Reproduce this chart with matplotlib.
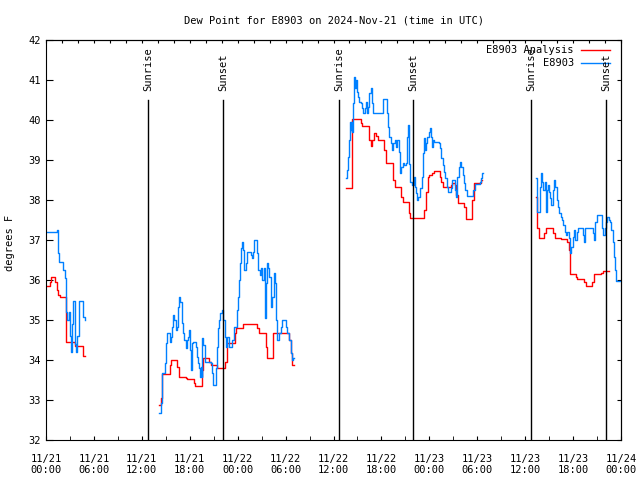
import numpy as np
import matplotlib
matplotlib.use('Agg')
import matplotlib.pyplot as plt

plt.rcParams['font.family'] = 'DejaVu Sans Mono'
plt.rcParams['font.size'] = 7.5

# (hours after 2024-11-21 00:00 UTC, dew point F) - each pair starts a step
obs_seg1 = [(0.0, 37.19), (1.34, 37.25), (1.50, 36.67), (1.63, 36.46), (2.17, 36.25),
            (2.34, 36.04), (2.46, 35.6), (2.55, 35.21), (2.67, 35.0), (2.88, 35.21),
            (3.0, 34.6), (3.09, 34.2), (3.30, 34.9), (3.42, 35.47), (3.59, 35.1),
            (3.63, 34.4), (3.75, 34.2), (3.92, 34.6), (4.13, 35.47), (4.67, 35.08),
            (4.88, 35.0)]
obs_seg2 = [(14.15, 32.67), (14.44, 32.92), (14.57, 33.67), (14.90, 33.92), (15.07, 34.42),
            (15.20, 34.67), (15.53, 34.46), (15.62, 34.58), (15.82, 34.83), (15.94, 35.12),
            (16.07, 35.0), (16.24, 34.75), (16.36, 34.83), (16.57, 35.33), (16.70, 35.58),
            (16.82, 35.46), (16.99, 34.92), (17.20, 34.67), (17.32, 34.5), (17.49, 34.29),
            (17.70, 34.5), (17.82, 34.58), (17.91, 34.75), (18.03, 34.25), (18.16, 33.75),
            (18.32, 34.42), (18.45, 34.46), (18.74, 34.33), (18.91, 34.08), (19.07, 33.92),
            (19.20, 33.79), (19.32, 33.58), (19.41, 33.83), (19.49, 33.58), (19.57, 34.54),
            (19.70, 34.37), (19.87, 33.96), (20.62, 33.92), (20.83, 33.67), (20.95, 33.37),
            (21.25, 33.8), (21.37, 34.33), (21.54, 34.79), (21.66, 35.0), (21.79, 35.17),
            (22.0, 35.25), (22.2, 35.0), (22.41, 34.58), (22.58, 34.33), (22.7, 34.58),
            (22.92, 34.33), (23.33, 34.5), (23.54, 34.83), (23.88, 35.25), (24.04, 35.58),
            (24.17, 36.0), (24.29, 36.42), (24.46, 36.79), (24.58, 36.96), (24.71, 36.75),
            (24.79, 36.25), (25.0, 36.42), (25.13, 36.69), (25.71, 36.63), (25.84, 36.54),
            (25.96, 36.71), (26.09, 37.0), (26.46, 36.67), (26.59, 36.25), (26.75, 36.13),
            (26.92, 36.29), (27.09, 36.0), (27.26, 36.29), (27.38, 35.04), (27.51, 35.92),
            (27.63, 36.42), (27.8, 36.29), (27.92, 36.08), (28.13, 35.33), (28.34, 35.58),
            (28.55, 36.17), (28.67, 35.92), (28.8, 35.0), (28.97, 34.5), (29.18, 34.67),
            (29.38, 34.83), (29.59, 35.0), (30.01, 34.83), (30.22, 34.67), (30.43, 34.5),
            (30.64, 34.17), (30.76, 34.0), (30.89, 34.04), (31.05, 34.04)]
obs_seg3 = [(37.61, 38.54), (37.73, 38.75), (37.86, 39.08), (37.98, 39.5), (38.07, 39.96),
            (38.15, 39.75), (38.23, 39.96), (38.36, 39.71), (38.48, 40.42), (38.61, 41.07),
            (38.69, 40.79), (38.78, 41.0), (38.9, 40.71), (39.07, 40.58), (39.24, 40.46),
            (39.4, 40.42), (39.57, 40.29), (39.74, 40.17), (39.9, 40.29), (40.07, 40.46),
            (40.24, 40.17), (40.36, 40.33), (40.49, 40.67), (40.66, 40.79), (40.82, 40.42),
            (40.99, 40.17), (42.24, 40.52), (42.66, 40.17), (42.83, 39.83), (42.99, 39.58),
            (43.16, 39.42), (43.33, 39.25), (43.49, 39.42), (43.66, 39.5), (43.83, 39.33),
            (43.99, 39.5), (44.16, 39.21), (44.33, 38.67), (44.49, 38.83), (44.66, 38.92),
            (44.83, 38.875), (45.04, 38.92), (45.2, 39.58), (45.3, 39.875), (45.5, 38.9),
            (45.62, 38.46), (45.87, 38.375), (46.08, 38.58), (46.21, 38.33), (46.37, 38.17),
            (46.5, 38.0), (46.62, 38.08), (46.79, 38.29), (47.12, 38.58), (47.25, 39.17),
            (47.37, 39.54), (47.5, 39.25), (47.62, 39.42), (47.75, 39.58), (47.92, 39.71),
            (48.04, 39.79), (48.17, 39.58), (48.29, 39.33), (48.42, 39.5), (48.59, 39.46),
            (49.17, 39.42), (49.34, 39.29), (49.5, 39.04), (49.67, 38.875), (49.84, 38.71),
            (50.0, 38.54), (50.17, 38.33), (50.34, 38.21), (50.67, 38.29), (50.88, 38.5),
            (51.17, 38.25), (51.34, 38.08), (51.51, 38.58), (51.67, 38.83), (51.84, 38.96),
            (52.01, 38.83), (52.17, 38.625), (52.34, 38.42), (52.51, 38.25), (52.68, 38.1),
            (53.51, 38.25), (53.68, 38.4), (54.35, 38.46), (54.51, 38.54), (54.64, 38.67),
            (54.7, 38.67)]
obs_seg4 = [(61.4, 38.54), (61.52, 37.71), (61.86, 38.33), (62.03, 38.67), (62.15, 38.46),
            (62.27, 38.25), (62.44, 38.46), (62.57, 37.71), (62.69, 38.25), (62.86, 38.375),
            (62.99, 38.21), (63.11, 38.04), (63.28, 37.875), (63.45, 38.25), (63.61, 38.5),
            (63.78, 38.33), (63.95, 38.0), (64.11, 37.83), (64.28, 37.67), (64.45, 37.58),
            (64.61, 37.5), (64.78, 37.375), (64.95, 37.21), (65.11, 37.125), (65.28, 37.21),
            (65.45, 37.04), (65.62, 36.67), (65.78, 36.83), (65.95, 37.08), (66.12, 37.25),
            (66.28, 37.0), (66.45, 37.21), (66.62, 37.29), (67.2, 37.125), (67.37, 36.96),
            (67.54, 37.29), (68.45, 37.17), (68.62, 37.0), (68.79, 37.46), (68.95, 37.625),
            (69.62, 37.29), (69.79, 37.125), (69.96, 37.29), (70.12, 37.46), (70.29, 37.58),
            (70.46, 37.5), (70.62, 37.46), (70.79, 37.25), (70.96, 36.96), (71.12, 36.58),
            (71.29, 36.25), (71.38, 35.98), (71.9, 35.98)]

ana_seg1 = [(0.0, 35.86), (0.46, 35.96), (0.67, 36.07), (1.13, 35.96), (1.34, 35.75),
            (1.50, 35.62), (1.71, 35.57), (2.46, 35.29), (2.55, 34.45), (3.63, 34.35),
            (4.63, 34.1), (4.88, 34.1)]
ana_seg2 = [(14.15, 32.875), (14.44, 33.04), (14.57, 33.65), (15.49, 33.875), (15.61, 34.0),
            (16.45, 33.83), (16.65, 33.58), (17.49, 33.54), (17.7, 33.52), (18.53, 33.42),
            (18.66, 33.35), (19.49, 33.75), (19.66, 34.06), (20.41, 33.96), (20.62, 33.875),
            (21.45, 33.79), (22.41, 33.96), (22.62, 34.42), (23.63, 34.67), (23.83, 34.79),
            (24.71, 34.9), (26.38, 34.79), (26.67, 34.67), (27.51, 34.33), (27.72, 34.06),
            (28.47, 34.67), (30.43, 34.5), (30.64, 34.18), (30.85, 33.875), (31.05, 33.875)]
ana_seg3 = [(37.61, 38.31), (38.36, 40.02), (39.4, 39.92), (39.57, 39.85), (40.45, 39.5),
            (40.66, 39.35), (40.87, 39.5), (41.04, 39.67), (41.37, 39.6), (41.54, 39.5),
            (42.31, 39.25), (42.52, 38.92), (43.49, 38.5), (43.66, 38.33), (44.49, 38.08),
            (44.66, 37.94), (45.46, 37.67), (45.62, 37.54), (47.33, 37.75), (47.54, 38.21),
            (47.83, 38.58), (47.96, 38.625), (48.38, 38.68), (48.59, 38.725), (49.34, 38.58),
            (49.5, 38.46), (49.75, 38.32), (50.67, 38.37), (50.88, 38.42), (51.17, 38.37),
            (51.38, 38.125), (51.59, 37.93), (52.34, 37.83), (52.55, 37.53), (53.38, 38.0),
            (53.59, 38.42), (54.51, 38.5), (54.64, 38.5)]
ana_seg4 = [(61.4, 38.08), (61.52, 37.29), (61.69, 37.04), (62.36, 37.17), (62.61, 37.31),
            (63.45, 37.17), (63.69, 37.06), (64.45, 37.03), (65.2, 36.96), (65.45, 36.75),
            (65.62, 36.14), (66.32, 36.08), (66.53, 36.03), (67.37, 35.96), (67.62, 35.85),
            (68.41, 35.96), (68.62, 36.14), (69.46, 36.17), (69.7, 36.22), (70.46, 36.22)]

sunrise_hours = [12.8, 36.7, 60.75]
sunset_hours = [22.2, 45.95, 70.1]

tick_hours = list(range(0, 73, 6))
tick_labels = ['11/21\n00:00', '11/21\n06:00', '11/21\n12:00', '11/21\n18:00',
               '11/22\n00:00', '11/22\n06:00', '11/22\n12:00', '11/22\n18:00',
               '11/23\n00:00', '11/23\n06:00', '11/23\n12:00', '11/23\n18:00',
               '11/24\n00:00']

ana_color = '#ff0000'
obs_color = '#0080ff'

fig = plt.figure(figsize=(6.4, 4.8), dpi=100)
ax = fig.add_axes([46 / 640, 40 / 480, 575 / 640, 400 / 480])

for seg in [ana_seg1, ana_seg2, ana_seg3, ana_seg4]:
    t, v = zip(*seg)
    ax.plot(t, v, drawstyle='steps-post', color=ana_color, lw=1)
for seg in [obs_seg1, obs_seg2, obs_seg3, obs_seg4]:
    t, v = zip(*seg)
    ax.plot(t, v, drawstyle='steps-post', color=obs_color, lw=1)

for h in sunrise_hours:
    ax.plot([h, h], [32, 40.5], color='black', lw=1)
    ax.text(h, 40.72, 'Sunrise', rotation=90, ha='center', va='bottom')
for h in sunset_hours:
    ax.plot([h, h], [32, 40.5], color='black', lw=1)
    ax.text(h, 40.72, 'Sunset', rotation=90, ha='center', va='bottom')

# legend, gnuplot style (text right aligned, sample on the right)
ax.text(0.918, 0.974, 'E8903 Analysis', transform=ax.transAxes, ha='right', va='center')
ax.plot([0.930, 0.981], [0.974, 0.974], transform=ax.transAxes, color=ana_color, lw=1)
ax.text(0.918, 0.943, 'E8903', transform=ax.transAxes, ha='right', va='center')
ax.plot([0.930, 0.981], [0.943, 0.943], transform=ax.transAxes, color=obs_color, lw=1)

ax.set_xlim(0, 72)
ax.set_ylim(32, 42)
ax.set_xticks(tick_hours)
ax.set_xticklabels(tick_labels)
ax.set_xticks(range(0, 73, 3), minor=True)
ax.set_yticks(range(32, 43))
ax.tick_params(axis='x', which='both', direction='in', length=3, pad=10)
ax.tick_params(axis='y', direction='in', length=5, pad=4)

top = ax.secondary_xaxis('top')
top.set_xticks(range(0, 73, 2))
top.set_xticklabels([])
top.tick_params(direction='in', length=2)
right = ax.secondary_yaxis('right')
right.set_yticks(range(32, 43))
right.set_yticklabels([])
right.tick_params(direction='in', length=3)

for a in (ax, top, right):
    for s in a.spines.values():
        s.set_linewidth(0.8)

ax.set_title('Dew Point for E8903 on 2024-Nov-21 (time in UTC)', fontsize=7.5, pad=12)
ax.set_ylabel('degrees F')
ax.yaxis.set_label_coords(-0.054, 0.4925)

fig.savefig('out.png', dpi=100)
